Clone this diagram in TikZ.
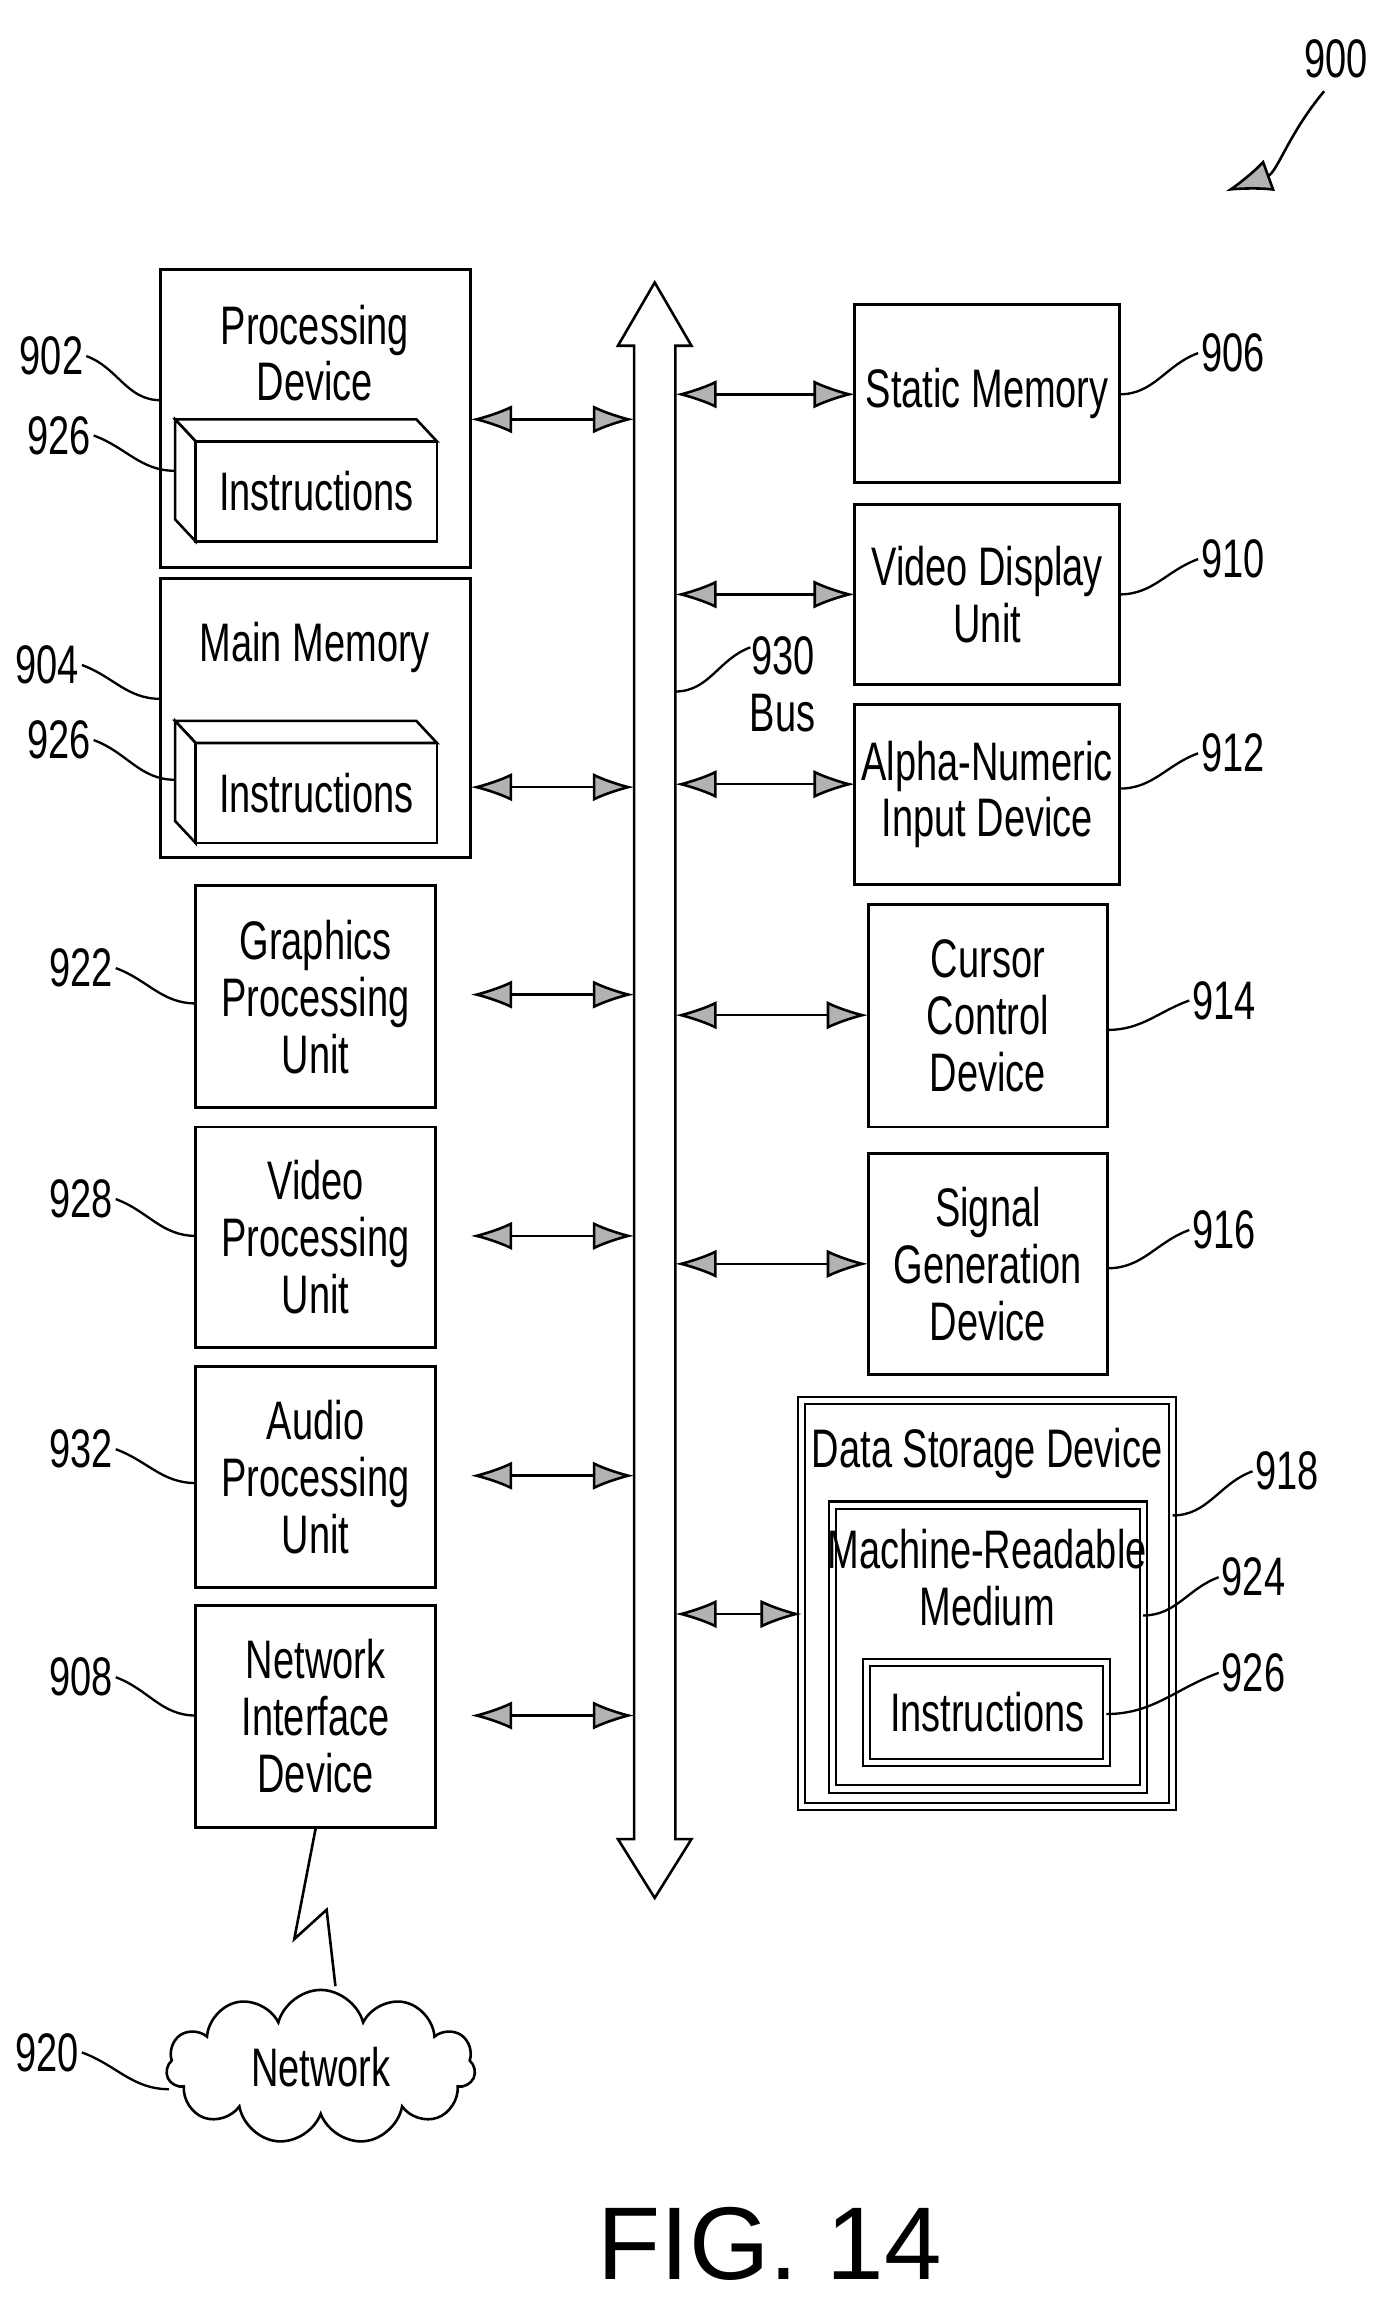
\documentclass[tikz,border=0pt]{standalone}
\usepackage{fontspec}
\setmainfont{Liberation Sans}[FakeStretch=0.7]
\usetikzlibrary{arrows.meta,shapes.symbols}
\begin{document}
\begin{tikzpicture}[
    x=0.02cm, y=-0.02cm,
    every node/.style={font=\fontsize{21}{22}\selectfont, align=center, inner sep=1pt},
    box/.style={draw, line width=1.1pt},
    dbox/.style={draw, double, double distance=2pt, line width=0.8pt},
    lead/.style={line width=0.9pt},
    link/.style={line width=1pt, {Latex[length=16pt,width=11pt,fill=gray!60]}-{Latex[length=16pt,width=11pt,fill=gray!60]}}
  ]
  \useasboundingbox (0,0) rectangle (940,1566);

  % bus
  \draw[line width=1pt] (431,235) -- (420,235) -- (445,192) -- (470,235) -- (459,235)
    -- (459,1250) -- (470,1250) -- (445,1290) -- (420,1250) -- (431,1250) -- cycle;
  \coordinate (busL) at (431,0);
  \coordinate (busR) at (459,0);

  % left column
  \draw[box] (109,183) rectangle (320,386);
  \node (pd) at (214,240) {Processing\\Device};
  \draw[box] (109,393) rectangle (320,583);
  \node (mm) at (214,440) {Main Memory};
  \foreach \y/\n in {300/ia, 505/ib}{
    \draw[line width=1pt, fill=white] (119,\y-15) -- (283,\y-15) -- (297,\y) -- (133,\y) -- cycle;
    \draw[line width=1pt, fill=white] (119,\y-15) -- (133,\y) -- (133,\y+68) -- (119,\y+53) -- cycle;
    \draw[line width=1pt] (133,\y) rectangle (297,\y+68);
    \node (\n) at (215,\y+34) {Instructions};
  }
  \node[box, minimum width=3.26cm, minimum height=3.02cm] (gpu) at (214.5,677.5) {Graphics\\Processing\\Unit};
  \node[box, minimum width=3.26cm, minimum height=3.0cm] (vpu) at (214.5,841) {Video\\Processing\\Unit};
  \node[box, minimum width=3.26cm, minimum height=3.0cm] (apu) at (214.5,1004) {Audio\\Processing\\Unit};
  \node[box, minimum width=3.26cm, minimum height=3.02cm] (nid) at (214.5,1166.5) {Network\\Interface\\Device};
  \node[cloud, draw, line width=1pt, cloud puffs=11, aspect=2.2, minimum width=4.2cm, minimum height=2.1cm] (net) at (218,1405) {Network};
  \draw[line width=1pt] (nid.south) -- (200,1318) -- (222,1298) -- (228,1350);

  % right column
  \node[box, minimum width=3.6cm, minimum height=2.42cm] (sm) at (671,267.5) {Static Memory};
  \node[box, minimum width=3.6cm, minimum height=2.44cm] (vdu) at (671,404) {Video Display\\Unit};
  \node[box, minimum width=3.6cm, minimum height=2.44cm] (anid) at (671,540) {Alpha-Numeric\\Input Device};
  \node[box, minimum width=3.26cm, minimum height=3.02cm] (ccd) at (671.5,690.5) {Cursor\\Control\\Device};
  \node[box, minimum width=3.26cm, minimum height=3.0cm] (sgd) at (671.5,859) {Signal\\Generation\\Device};
  \draw[dbox] (545,952) rectangle (797,1228);
  \node (dsd) at (671,988) {Data Storage Device};
  \draw[dbox] (566,1023) rectangle (777,1216);
  \node (mrm) at (671,1072) {Machine-Readable\\Medium};
  \draw[dbox] (589,1130) rectangle (752,1198);
  \node (ic) at (671,1164) {Instructions};

  % links to bus
  \foreach \y in {285,535,676,840,1003,1166}{
    \draw[link] (320,\y) -- (busL |- 0,\y);
  }
  \foreach \y/\x in {268/581,404/581,533/581,690/590,859/590,1097/545}{
    \draw[link] (busR |- 0,\y) -- (\x,\y);
  }

  % reference numerals
  \node (l900) at (908,40) {900};
  \draw[line width=1pt, -{Latex[length=18pt,width=13pt,fill=gray!60]}] (900,62) to[out=230,in=20] (833,130);
  \foreach \n/\lx/\ly/\bx/\by in {902/35/242/109/272, 926/40/296/119/320, 904/32/452/109/475, 926/40/503/119/530,
      922/55/658/133/682, 928/55/815/133/840, 932/55/985/133/1008, 908/55/1140/133/1166, 920/32/1395/115/1420}{
    \node (l\n) at (\lx,\ly) {\n};
    \draw[lead] (l\n.east) to[out=-20,in=180] (\bx,\by);
  }
  \foreach \n/\lx/\ly/\bx/\by in {906/838/240/761/268, 910/838/380/761/404, 912/838/512/761/536, 914/832/680/753/700,
      916/832/836/753/862, 918/875/1000/797/1030, 924/852/1072/777/1098, 926/852/1137/752/1165}{
    \node (r\n) at (\lx,\ly) {\n};
    \draw[lead] (\bx,\by) to[out=0,in=200] (r\n.west);
  }
  \node (l930) at (532,465) {930\\Bus};
  \draw[lead] (459,470) to[out=0,in=200] (510,440);

  \node[font=\fontsize{40}{44}\selectfont\addfontfeature{FakeStretch=1}] (fig) at (523,1525) {FIG. 14};
\end{tikzpicture}
\end{document}
